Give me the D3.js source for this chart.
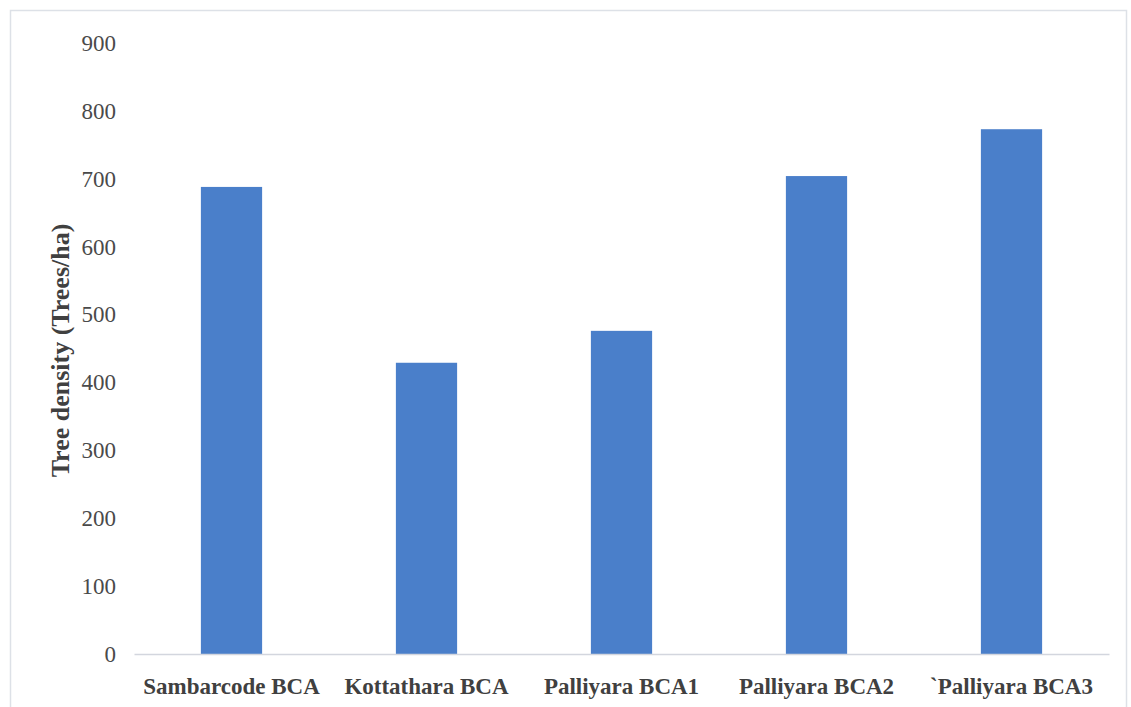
<!DOCTYPE html>
<html>
<head>
<meta charset="utf-8">
<script src="https://cdn.jsdelivr.net/npm/d3@7"></script>
<style>
  html, body { margin: 0; padding: 0; background: #ffffff; }
  svg { display: block; }
</style>
</head>
<body>
<svg id="chart" width="1131" height="707"></svg>
<script>
// Tree density per biodiversity conservation area
const sites = ["Sambarcode BCA", "Kottathara BCA", "Palliyara BCA1", "Palliyara BCA2", "`Palliyara BCA3"];
const density = [688, 429, 476, 704, 773];
const yTicks = [0, 100, 200, 300, 400, 500, 600, 700, 800, 900];
const yTitle = "Tree density (Trees/ha)";

const svg = d3.select("#chart");
const plot = { left: 134, right: 1109, top: 43, bottom: 654 };

// outer chart frame
svg.append("rect")
  .attr("x", 10.5).attr("y", 10.5)
  .attr("width", 1116).attr("height", 710)
  .attr("fill", "none")
  .attr("stroke", "#dde1e7")
  .attr("stroke-width", 1.5);

const x = d3.scaleBand()
  .domain(sites)
  .range([plot.left, plot.right])
  .paddingInner(0.686)
  .paddingOuter(0.343);

const y = d3.scaleLinear()
  .domain([0, 900])
  .range([plot.bottom, plot.top]);

// bars
svg.append("g")
  .selectAll("rect")
  .data(sites.map((s, i) => ({ site: s, value: density[i] })))
  .join("rect")
  .attr("x", d => x(d.site))
  .attr("y", d => y(d.value))
  .attr("width", x.bandwidth())
  .attr("height", d => y(0) - y(d.value))
  .attr("fill", "#4a7fca");

// category axis
const xAxis = svg.append("g")
  .attr("transform", `translate(0,${plot.bottom})`)
  .call(d3.axisBottom(x).tickSize(0).tickPadding(24));
xAxis.select(".domain")
  .attr("stroke", "#d3d6de")
  .attr("stroke-width", 1.5);
xAxis.selectAll("text")
  .attr("font-family", "'Liberation Serif', 'Times New Roman', serif")
  .attr("font-size", 23)
  .attr("font-weight", "bold")
  .attr("fill", "#404040");

// value axis (labels only)
const yAxis = svg.append("g")
  .attr("transform", `translate(${plot.left},0)`)
  .call(d3.axisLeft(y).tickValues(yTicks).tickSize(0).tickPadding(18).tickFormat(d3.format("d")));
yAxis.select(".domain").remove();
yAxis.selectAll("text")
  .attr("font-family", "'Liberation Serif', 'Times New Roman', serif")
  .attr("font-size", 23)
  .attr("fill", "#4a4a4a");

// value axis title
svg.append("text")
  .attr("transform", `translate(69,${(plot.top + plot.bottom) / 2 + 2}) rotate(-90)`)
  .attr("text-anchor", "middle")
  .attr("font-family", "'Liberation Serif', 'Times New Roman', serif")
  .attr("font-size", 26)
  .attr("font-weight", "bold")
  .attr("fill", "#404040")
  .text(yTitle);
</script>
</body>
</html>
